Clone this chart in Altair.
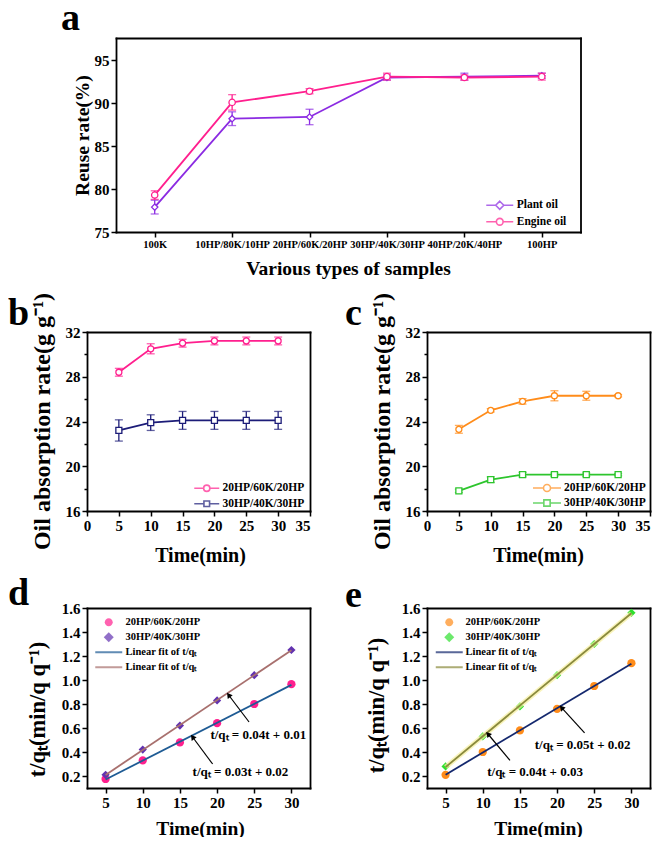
import altair as alt
import pandas as pd

# ---------------- data ----------------
samples = ["100K", "10HP/80K/10HP", "20HP/60K/20HP", "30HP/40K/30HP", "40HP/20K/40HP", "100HP"]
plant_oil = [77.9, 88.2, 88.4, 93.0, 93.1, 93.2]
plant_oil_err = [0.8, 0.8, 0.9, 0.3, 0.4, 0.3]
engine_oil = [79.3, 90.1, 91.4, 93.1, 93.0, 93.1]
engine_oil_err = [0.5, 0.9, 0.3, 0.4, 0.3, 0.4]

times = [5, 10, 15, 20, 25, 30]
S1 = "20HP/60K/20HP"
S2 = "30HP/40K/30HP"

b_s1 = [28.4, 30.5, 31.0, 31.2, 31.2, 31.2]
b_s1_err = [0.35, 0.45, 0.35, 0.35, 0.35, 0.35]
b_s2 = [23.2, 23.9, 24.1, 24.1, 24.1, 24.1]
b_s2_err = [0.95, 0.7, 0.8, 0.8, 0.8, 0.8]

c_s1 = [23.3, 25.0, 25.8, 26.3, 26.3, 26.3]
c_s1_err = [0.35, 0.15, 0.25, 0.45, 0.4, 0.1]
c_s2 = [17.8, 18.8, 19.25, 19.25, 19.25, 19.25]
c_s2_err = [0.15, 0.25, 0.2, 0.15, 0.15, 0.1]

d_s1 = [0.175, 0.33, 0.48, 0.64, 0.80, 0.965]
d_s2 = [0.21, 0.42, 0.62, 0.83, 1.04, 1.25]
e_s1 = [0.21, 0.40, 0.58, 0.76, 0.95, 1.14]
e_s2 = [0.28, 0.53, 0.78, 1.04, 1.30, 1.56]

d_eq_text = ["t/qₜ = 0.04t + 0.01", "t/qₜ = 0.03t + 0.02"]
d_eq_t = [19.1, 16.7]
d_eq_v = [0.54, 0.23]
d_arrow_t0 = [24.3, 19.4]
d_arrow_v0 = [0.65, 0.30]
d_arrow_t1 = [21.55, 16.7]
d_arrow_v1 = [0.875, 0.525]

e_eq_text = ["t/qₜ = 0.05t + 0.02", "t/qₜ = 0.04t + 0.03"]
e_eq_t = [17.0, 10.6]
e_eq_v = [0.46, 0.23]
e_arrow_t0 = [23.7, 13.66]
e_arrow_v0 = [0.56, 0.33]
e_arrow_t1 = [20.6, 10.7]
e_arrow_v1 = [0.77, 0.55]

# ---------------- layout / style ----------------
W, H = 645, 829
FONT = "Liberation Serif"
G = {
    "a": dict(x=[108, 572.5], y=[224, 30], ydom=[75, 97.6]),
    "b": dict(x=[79, 302], y=[503, 324], xdom=[0, 35], ydom=[16, 32]),
    "c": dict(x=[419, 642], y=[503, 324], xdom=[0, 35], ydom=[16, 32]),
    "d": dict(x=[79, 302], y=[780, 600], xdom=[2.5, 32.5], ydom=[0.1, 1.6]),
    "e": dict(x=[419, 642], y=[780, 600], xdom=[2.5, 32.5], ydom=[0.1, 1.6]),
}
C_PURPLE = "#8B2BE2"
C_PINK = "#FF1F8E"
C_NAVY = "#1C1C78"
C_ORANGE = "#FF8C1A"
C_GREEN = "#2DC52D"
C_DPURPLE = "#6232B0"
C_BLUE = "#1E5B94"
C_BROWN = "#A8706E"
C_GREEN2 = "#2EE02E"
C_NAVY2 = "#14286E"
C_OLIVE = "#8A8A3C"


def long_df(x_name, x_vals, series):
    rows = []
    for name, vals, errs in series:
        for i, (x, v) in enumerate(zip(x_vals, vals)):
            e = errs[i] if errs is not None else 0
            rows.append({x_name: x, "idx": i, "series": name, "value": v,
                         "lo": v - e, "hi": v + e})
    return pd.DataFrame(rows)


def qscale(dom, rng):
    return alt.Scale(domain=dom, range=rng, nice=False, zero=False)


def axes_layer(df, xf, yf, xs, ys, xaxis, yaxis):
    return alt.Chart(df).mark_point(opacity=0).encode(
        x=alt.X(xf, scale=xs, axis=xaxis), y=alt.Y(yf, scale=ys, axis=yaxis))


def frame(p, df, xf, yf, xs, ys):
    return axes_layer(
        df, xf, yf, xs, ys,
        alt.Axis(orient="top", offset=-G[p]["y"][1], labels=False, ticks=False, title=None),
        alt.Axis(orient="right", offset=G[p]["x"][1] - W, labels=False, ticks=False, title=None))


def minor_ticks(p, df, xf, yf, xs, ys, values):
    return axes_layer(
        df, xf, yf, xs, ys, None,
        alt.Axis(orient="left", offset=-G[p]["x"][0], values=values, labels=False,
                 domain=False, tickSize=3, title=None))


def legend_layer(df, names, colors, paths, lx, ly, size, loff, rpad, fsize, filled, sw=1.6,
                 label_expr=None):
    kw = dict(orient="none", legendX=lx, legendY=ly, title=None, symbolSize=size,
              labelOffset=loff, rowPadding=rpad, labelFontSize=fsize, padding=0,
              symbolStrokeWidth=sw)
    if label_expr is not None:
        kw["labelExpr"] = label_expr
    return alt.Chart(df).transform_filter("false").mark_point(filled=filled, strokeWidth=sw).encode(
        color=alt.Color("series:N", scale=alt.Scale(domain=names, range=colors), legend=alt.Legend(**kw)),
        shape=alt.Shape("series:N", scale=alt.Scale(domain=names, range=paths), legend=alt.Legend(**kw)),
    )


# legend symbol paths (unit box, extended line)
P_LINE_DIAMOND = "M-2,0H-0.6M0.6,0H2M0,-0.6L0.6,0L0,0.6L-0.6,0Z"
P_LINE_CIRCLE = "M-2,0H-0.5M0.5,0H2M-0.5,0A0.5,0.5 0 1,1 0.5,0A0.5,0.5 0 1,1 -0.5,0Z"
P_LINE_SQUARE = "M-2,0H-0.45M0.45,0H2M-0.45,-0.45H0.45V0.45H-0.45Z"
P_CIRCLE = "M-0.59,0A0.59,0.59 0 1,1 0.59,0A0.59,0.59 0 1,1 -0.59,0Z"
P_DIAMOND = "M0,-0.74L0.74,0L0,0.74L-0.74,0Z"
P_BAR = "M-2,-0.15H2V0.15H-2Z"

layers = []

# ---------------- panel a ----------------
dfa = long_df("sample", samples, [("Plant oil", plant_oil, plant_oil_err),
                                  ("Engine oil", engine_oil, engine_oil_err)])
ax_s = alt.Scale(type="point", domain=samples, range=G["a"]["x"], padding=0.5)
ay_s = qscale(G["a"]["ydom"], G["a"]["y"])
a_col = alt.Scale(domain=["Plant oil", "Engine oil"], range=[C_PURPLE, C_PINK])
a_color = alt.Color("series:N", scale=a_col, legend=None)
aX = alt.X("sample:N", scale=ax_s, axis=None)
aY = alt.Y("value:Q", scale=ay_s, axis=None)
a_base = alt.Chart(dfa)
a_line = a_base.mark_line(strokeWidth=1.8).encode(
    x=aX, y=aY, color=a_color, order=alt.Order("idx:Q"))
a_err = a_base.mark_rule(strokeWidth=1.3).encode(
    x=aX, y=alt.Y("lo:Q", scale=ay_s, axis=None), y2="hi:Q", color=a_color)
a_caps = a_base.transform_fold(["lo", "hi"], as_=["end", "yy"]).mark_tick(
    orient="horizontal", size=8, thickness=1.3).encode(
    x=aX, y=alt.Y("yy:Q", scale=ay_s, axis=None), color=a_color)
a_pts = a_base.mark_point(filled=False, fill="white", size=40, strokeWidth=1.3, opacity=1).encode(
    x=aX, y=aY, color=a_color,
    shape=alt.Shape("series:N", scale=alt.Scale(domain=["Plant oil", "Engine oil"],
                                                range=["diamond", "circle"]), legend=None))
layers += [
    axes_layer(dfa, "sample:N", "value:Q", ax_s, ay_s,
               alt.Axis(orient="bottom", offset=G["a"]["y"][0] - H, title="Various types of samples",
                        titleX=340, titleY=36, titleBaseline="middle", titleFontSize=19.5,
                        labelFontSize=10.5, labelAngle=0),
               alt.Axis(orient="left", offset=-G["a"]["x"][0], values=[75, 80, 85, 90, 95],
                        title="Reuse rate(%)", titleX=-34, titleY=127, titleBaseline="middle",
                        titleFontSize=19.5, labelFontSize=15)),
    frame("a", dfa, "sample:N", "value:Q", ax_s, ay_s),
    alt.layer(a_line, a_err, a_caps, a_pts),
    legend_layer(dfa, ["Plant oil", "Engine oil"], [C_PURPLE, C_PINK],
                 [P_LINE_DIAMOND, P_LINE_CIRCLE], 483.75, 189.25, 182, 9.0, 0.5, 11.5, False)]


# ---------------- panels b, c ----------------
def kinetics_panel(p, s1, s1e, s2, s2e, colors, shapes, title_x, lx, ly, lsize, loff, rpad):
    df = long_df("time", times, [(S1, s1, s1e), (S2, s2, s2e)])
    xs = qscale(G[p]["xdom"], G[p]["x"])
    ys = qscale(G[p]["ydom"], G[p]["y"])
    col = alt.Color("series:N", scale=alt.Scale(domain=[S1, S2], range=colors), legend=None)
    X = alt.X("time:Q", scale=xs, axis=None)
    Y = alt.Y("value:Q", scale=ys, axis=None)
    base = alt.Chart(df)
    line = base.mark_line(strokeWidth=1.8).encode(x=X, y=Y, color=col)
    err = base.mark_rule(strokeWidth=1.3).encode(
        x=X, y=alt.Y("lo:Q", scale=ys, axis=None), y2="hi:Q", color=col)
    caps = base.transform_fold(["lo", "hi"], as_=["end", "yy"]).mark_tick(
        orient="horizontal", size=8, thickness=1.3).encode(
        x=X, y=alt.Y("yy:Q", scale=ys, axis=None), color=col)
    pts = base.mark_point(filled=False, fill="white", size=36, strokeWidth=1.3, opacity=1).encode(
        x=X, y=Y, color=col,
        shape=alt.Shape("series:N", scale=alt.Scale(domain=[S1, S2], range=shapes), legend=None))
    ax = axes_layer(
        df, "time:Q", "value:Q", xs, ys,
        alt.Axis(orient="bottom", offset=G[p]["y"][0] - H, values=[0, 5, 10, 15, 20, 25, 30, 35],
                 title="Time(min)", titleX=title_x, titleY=44, titleBaseline="middle",
                 titleFontSize=20, labelFontSize=15,
                 labelAlign={"condition": {"test": "datum.value == 35", "value": "right"},
                             "value": "center"}),
        alt.Axis(orient="left", offset=-G[p]["x"][0], values=[16, 20, 24, 28, 32],
                 title="Oil absorption rate(g g⁻¹)", titleX=-45, titleY=413,
                 titleBaseline="middle", titleFontSize=24, labelFontSize=15))
    return [ax, frame(p, df, "time:Q", "value:Q", xs, ys),
            minor_ticks(p, df, "time:Q", "value:Q", xs, ys, [18, 22, 26, 30]),
            alt.layer(line, err, caps, pts),
            legend_layer(df, [S1, S2], colors, [P_LINE_CIRCLE, P_LINE_SQUARE], lx, ly, lsize,
                         loff, rpad, 11.5, False)]


layers += kinetics_panel("b", b_s1, b_s1_err, b_s2, b_s2_err, [C_PINK, C_NAVY],
                         ["circle", "square"], 192, 191.25, 472.75, 156, 8.25, 1.5)
layers += kinetics_panel("c", c_s1, c_s1_err, c_s2, c_s2_err, [C_ORANGE, C_GREEN],
                         ["circle", "square"], 530, 531, 472, 196, 9, 0)


# ---------------- panels d, e ----------------
def fit_panel(p, s1, s2, colors, title_x, title_y, ytitle_x, eq_text, eq_t, eq_v,
              a_t0, a_v0, a_t1, a_v1, head_angle, lx, ly, loff, glow=None):
    df = long_df("time", times, [(S1, s1, None), (S2, s2, None)])
    xs = qscale(G[p]["xdom"], G[p]["x"])
    ys = qscale(G[p]["ydom"], G[p]["y"])
    cs = alt.Scale(domain=[S1, S2, "fit1", "fit2"], range=colors)
    X = alt.X("time:Q", scale=xs, axis=None)
    Y = alt.Y("value:Q", scale=ys, axis=None)
    base = alt.Chart(df)
    pts = base.mark_point(filled=True, size=68, opacity=1).encode(
        x=X, y=Y, color=alt.Color("series:N", scale=cs, legend=None),
        shape=alt.Shape("series:N", scale=alt.Scale(domain=[S1, S2], range=["circle", "diamond"]),
                        legend=None))
    reg = base.transform_regression("time", "value", groupby=["series"]).transform_calculate(
        fit=f"datum.series == '{S1}' ? 'fit1' : 'fit2'")
    fits = reg.mark_line(strokeWidth=1.8).encode(
        x=X, y=Y, color=alt.Color("fit:N", scale=cs, legend=None))
    parts = [pts]
    if glow is not None:
        parts.append(base.transform_filter(f"datum.series == '{S2}'").transform_regression(
            "time", "value").mark_line(strokeWidth=5, color=glow, opacity=0.7).encode(x=X, y=Y))
    parts.append(fits)
    ann = pd.DataFrame({"text": eq_text, "t": eq_t, "v": eq_v})
    arr = pd.DataFrame({"t0": a_t0, "v0": a_v0, "t1": a_t1, "v1": a_v1})
    parts.append(alt.Chart(arr).mark_rule(strokeWidth=1.2, color="black").encode(
        x=alt.X("t0:Q", scale=xs, axis=None), y=alt.Y("v0:Q", scale=ys, axis=None),
        x2="t1:Q", y2="v1:Q"))
    parts.append(alt.Chart(arr).mark_point(shape="triangle-up", filled=True, size=38,
                                           angle=head_angle, color="black", opacity=1).encode(
        x=alt.X("t1:Q", scale=xs, axis=None), y=alt.Y("v1:Q", scale=ys, axis=None)))
    parts.append(alt.Chart(ann).mark_text(align="left", baseline="middle", font=FONT,
                                          fontSize=13, fontWeight="bold", color="black").encode(
        x=alt.X("t:Q", scale=xs, axis=None), y=alt.Y("v:Q", scale=ys, axis=None), text="text:N"))
    ax = axes_layer(
        df, "time:Q", "value:Q", xs, ys,
        alt.Axis(orient="bottom", offset=G[p]["y"][0] - H, values=[5, 10, 15, 20, 25, 30],
                 title="Time(min)", titleX=title_x, titleY=40, titleBaseline="middle",
                 titleFontSize=19.5, labelFontSize=15),
        alt.Axis(orient="left", offset=-G[p]["x"][0], values=[0.2, 0.4, 0.6, 0.8, 1.0, 1.2, 1.4, 1.6],
                 format=".1f", title="t/qₜ(min/q q⁻¹)", titleX=ytitle_x, titleY=title_y,
                 titleBaseline="middle", titleFontSize=22.5, labelFontSize=15))
    return [ax, frame(p, df, "time:Q", "value:Q", xs, ys),
            alt.layer(*parts),
            legend_layer(df, [S1, S2, "fit1", "fit2"], colors,
                         [P_CIRCLE, P_DIAMOND, P_BAR, P_BAR], lx, ly, 182, loff, 2, 10.5, True,
                         sw=0,
                         label_expr="datum.label == 'fit1' || datum.label == 'fit2' ? "
                                    "'Linear fit of t/qₜ' : datum.label")]


layers += fit_panel("d", d_s1, d_s2, [C_PINK, C_DPURPLE, C_BLUE, C_BROWN], 192, 701, -49.5,
                    d_eq_text, d_eq_t, d_eq_v, d_arrow_t0, d_arrow_v0, d_arrow_t1, d_arrow_v1,
                    323, 93.75, 607.25, 9.75)
layers += fit_panel("e", e_s1, e_s2, [C_ORANGE, C_GREEN2, C_NAVY2, C_OLIVE], 530, 697, -51,
                    e_eq_text, e_eq_t, e_eq_v, e_arrow_t0, e_arrow_v0, e_arrow_t1, e_arrow_v1,
                    318, 434.25, 607.25, 9.25, glow="#F6F0A0")

# ---------------- panel letters ----------------
dummy = pd.DataFrame({"k": [0]})
for letter, lx, ly in [("a", 53, 22), ("b", 0, 317), ("c", 337, 317), ("d", 0, 597), ("e", 337, 599)]:
    layers.append(alt.Chart(dummy).mark_text(
        text=letter, align="left", baseline="alphabetic", font=FONT, fontSize=38,
        fontWeight="bold", color="black").encode(x=alt.value(lx), y=alt.value(ly)))

chart = alt.layer(*layers).resolve_scale(
    x="independent", y="independent", color="independent", shape="independent"
).properties(
    width=W, height=H, padding=0, autosize=alt.AutoSizeParams(type="none")
).configure_view(strokeOpacity=0).configure_axis(
    grid=False, labelFont=FONT, labelFontWeight="bold", labelColor="black",
    titleFont=FONT, titleFontWeight="bold", titleColor="black",
    domainColor="black", tickColor="black", domainWidth=1.8, tickWidth=1.5, tickSize=5,
    labelPadding=2, labelFlush=False, labelOverlap=False, domainCap="square"
).configure_legend(labelFont=FONT, labelFontWeight="bold", labelColor="black")

chart.save("out.html", embed_options={"renderer": "svg", "actions": False})
